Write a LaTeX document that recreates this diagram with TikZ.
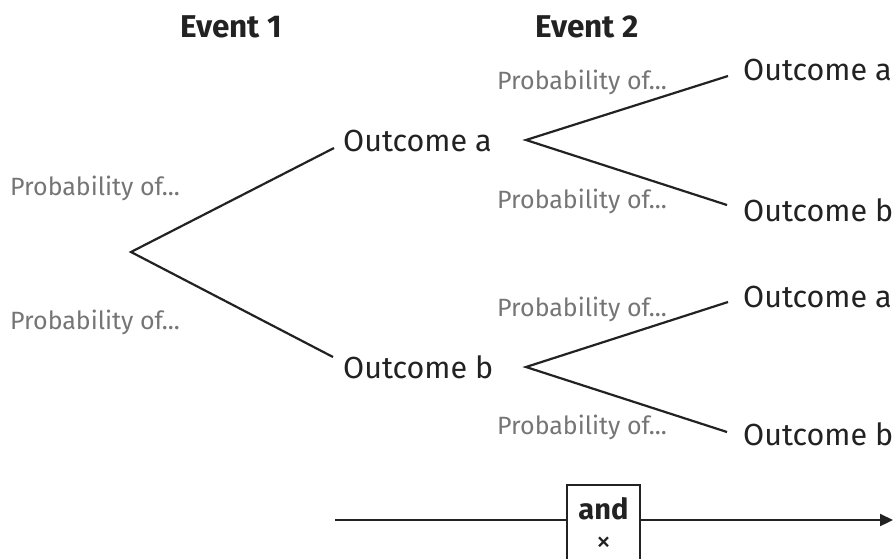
\documentclass[tikz,border=0pt]{standalone}
\usepackage{fontspec}
\setmainfont{Fira Sans}
\usetikzlibrary{arrows.meta}
\definecolor{ink}{HTML}{222222}
\definecolor{probgray}{HTML}{757575}
\tikzset{
  branch/.style={draw=ink, line width=2.2pt},
  outc/.style={anchor=base west, inner sep=0pt, text=ink, font=\fontsize{30.5}{34}\selectfont},
  prob/.style={anchor=base west, inner sep=0pt, text=probgray, font=\fontsize{25}{30}\selectfont},
  evt/.style={anchor=base, inner sep=0pt, text=ink, font=\bfseries\fontsize{31.5}{36}\selectfont},
  andbox/.style={draw=ink, line width=2.2pt, fill=white, minimum width=73pt, minimum height=100pt, anchor=north, inner sep=0pt},
}
\begin{document}
\begin{tikzpicture}[x=1pt, y=-1pt]
\useasboundingbox (0,0) rectangle (893,558);
\clip (0,0) rectangle (893,558);
% headings
\node[evt] (ev1) at (231,37) {Event 1};
\node[evt] (ev2) at (587,37) {Event 2};
% branch points
\coordinate (root) at (131,252);
\coordinate (r1) at (334,148);
\coordinate (r2) at (333,357);
\coordinate (va) at (526,140);
\coordinate (vaa) at (728,76);
\coordinate (vab) at (727,205);
\coordinate (vb) at (526,367);
\coordinate (vba) at (728,302);
\coordinate (vbb) at (727,432);
\draw[branch] (r1) -- (root) -- (r2);
\draw[branch] (vaa) -- (va) -- (vab);
\draw[branch] (vba) -- (vb) -- (vbb);
% outcomes
\node[outc] (o1a) at (343,151) {Outcome a};
\node[outc] (o1b) at (343,378) {Outcome b};
\node[outc] (o2aa) at (743,80) {Outcome a};
\node[outc] (o2ab) at (743,221) {Outcome b};
\node[outc] (o2ba) at (743,307) {Outcome a};
\node[outc] (o2bb) at (743,445) {Outcome b};
% probabilities
\node[prob] (p1a) at (10,195) {Probability of...};
\node[prob] (p1b) at (10,329) {Probability of...};
\node[prob] (paa) at (497,89) {Probability of...};
\node[prob] (pab) at (497,208) {Probability of...};
\node[prob] (pba) at (497,316) {Probability of...};
\node[prob] (pbb) at (497,434) {Probability of...};
% and-box with arrow
\coordinate (lstart) at (335,520);
\coordinate (lend) at (893,520);
\node[andbox] (and) at (603.5,484) {};
\node[inner sep=0pt, text=ink, font=\bfseries\fontsize{29}{32}\selectfont] (andt) at (603.5,509) {and};
\node[inner sep=0pt, text=ink, font=\fontsize{30}{32}\selectfont] (times) at (603.5,544) {×};
\draw[branch] (lstart) -- (and.west |- lstart);
\draw[branch, -{Triangle[length=13pt, width=12pt]}] (and.east |- lend) -- (lend);
\end{tikzpicture}
\end{document}
